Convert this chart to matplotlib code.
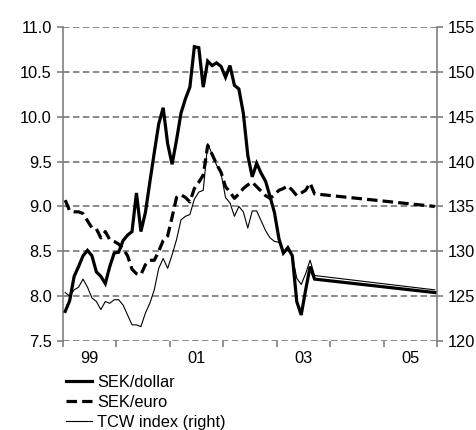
import matplotlib
matplotlib.use("Agg")
import matplotlib.pyplot as plt
import numpy as np
from matplotlib.lines import Line2D

plt.rcParams['font.family'] = ['Liberation Sans', 'DejaVu Sans']
plt.rcParams['font.size'] = 11.8

# Monthly data, Jan 1999 - Sep 2003
start_year = 1999
sek_usd = [7.83, 7.95, 8.22, 8.33, 8.45, 8.51, 8.45, 8.27, 8.22, 8.14, 8.33, 8.48,
           8.49, 8.62, 8.68, 8.72, 9.15, 8.72, 8.93, 9.27, 9.60, 9.92, 10.10, 9.70,
           9.47, 9.74, 10.04, 10.20, 10.33, 10.78, 10.77, 10.33, 10.62, 10.57, 10.60, 10.56,
           10.44, 10.57, 10.35, 10.31, 10.04, 9.57, 9.33, 9.48, 9.37, 9.28, 9.11, 8.93,
           8.64, 8.48, 8.54, 8.45, 7.94, 7.79, 8.07, 8.33, 8.19]
sek_eur = [9.07, 8.95, 8.94, 8.94, 8.92, 8.84, 8.76, 8.75, 8.65, 8.72, 8.63, 8.61,
           8.58, 8.53, 8.45, 8.30, 8.25, 8.24, 8.35, 8.40, 8.40, 8.50, 8.62, 8.67,
           8.88, 9.10, 9.13, 9.10, 9.05, 9.20, 9.27, 9.35, 9.68, 9.58, 9.47, 9.38,
           9.22, 9.16, 9.09, 9.14, 9.20, 9.24, 9.27, 9.22, 9.17, 9.12, 9.09, 9.13,
           9.18, 9.20, 9.23, 9.18, 9.12, 9.15, 9.18, 9.26, 9.14]
tcw_index = [125.4, 125.0, 125.7, 126.0, 126.9, 126.0, 124.8, 124.4, 123.5, 124.4, 124.2, 124.6,
             124.6, 124.0, 122.9, 121.8, 121.8, 121.6, 123.1, 124.2, 125.7, 128.1, 129.2, 128.1,
             129.6, 131.3, 133.5, 133.9, 134.1, 135.8, 136.6, 136.8, 142.0, 140.8, 139.6, 138.7,
             136.0, 135.4, 133.9, 135.0, 134.4, 132.6, 134.5, 134.5, 133.4, 132.3, 131.5, 131.1,
             131.0, 129.8, 130.2, 129.5, 127.0, 126.3, 127.5, 129.0, 127.3]

# Forecast end points (Dec 2005)
forecast_end_month = 83
sek_usd_end = 8.04
sek_eur_end = 9.00
tcw_end = 125.7

labels = ['SEK/dollar', 'SEK/euro', 'TCW index (right)']
year_ticks = list(range(1999, 2007))
year_labels = ['99', '01', '03', '05']
left_ticks = [7.5, 8.0, 8.5, 9.0, 9.5, 10.0, 10.5, 11.0]
right_ticks = [120, 125, 130, 135, 140, 145, 150, 155]

n = len(sek_usd)
months = start_year + (np.arange(n) + 0.5) / 12.0
x_end = start_year + (forecast_end_month + 0.5) / 12.0
x_all = np.append(months, x_end)
usd_all = np.append(sek_usd, sek_usd_end)
eur_all = np.append(sek_eur, sek_eur_end)
tcw_all = np.append(tcw_index, tcw_end)

grey = '#808080'

fig = plt.figure(figsize=(4.77, 4.30), dpi=100)
ax = fig.add_axes([63/477, 89/430, 374/477, 314/430])
ax2 = ax.twinx()
ax.set_zorder(ax2.get_zorder() + 1)
ax.patch.set_visible(False)

# gridlines (on right axis, drawn underneath)
for v in right_ticks:
    ax2.axhline(v, color=grey, lw=1.3, ls=(0, (3.6, 1.9)), zorder=0)

ax2.plot(x_all, tcw_all, color='black', lw=0.8, zorder=2)
ax.plot(x_all, usd_all, color='black', lw=2.3, zorder=3, solid_joinstyle='miter')
ax.plot(x_all, eur_all, color='black', lw=2.3, ls=(0, (3.3, 1.6)), zorder=3)

ax.set_xlim(1999, 2006)
ax.set_ylim(7.5, 11.0)
ax2.set_ylim(120, 155)

ax.set_yticks(left_ticks)
ax.set_yticklabels([f'{v:.1f}' for v in left_ticks])
ax2.set_yticks(right_ticks)
ax2.set_yticklabels([str(v) for v in right_ticks])

ax.set_xticks(year_ticks)
ax.set_xticklabels([])
ax.set_xticks([1999.5, 2001.5, 2003.5, 2005.5], minor=True)
ax.set_xticklabels(year_labels, minor=True)
ax.tick_params(axis='x', which='major', length=4, width=1.2, color=grey, direction='out')
ax.tick_params(axis='x', which='minor', length=0, pad=7)
ax.tick_params(axis='y', length=4, width=1.2, color=grey, direction='out', pad=4)
ax2.tick_params(axis='y', length=4, width=1.2, color=grey, direction='out', pad=4)

for a in (ax, ax2):
    a.spines['top'].set_visible(False)
    a.spines['bottom'].set_visible(False)
    a.spines['left'].set_color(grey)
    a.spines['right'].set_color(grey)
    a.spines['left'].set_linewidth(1.2)
    a.spines['right'].set_linewidth(1.2)
ax.spines['right'].set_visible(False)
ax2.spines['left'].set_visible(False)

handles = [Line2D([], [], color='black', lw=2.3),
           Line2D([], [], color='black', lw=2.3, ls=(0, (3.3, 1.6))),
           Line2D([], [], color='black', lw=0.8)]
leg = ax.legend(handles, labels, loc='upper left', bbox_to_anchor=(66/477, 1 - 375/430),
                bbox_transform=fig.transFigure, frameon=False, borderpad=0, borderaxespad=0,
                handlelength=1.6, handletextpad=0.3, labelspacing=0.3, fontsize=11.8)

fig.savefig('out.png', dpi=100)
